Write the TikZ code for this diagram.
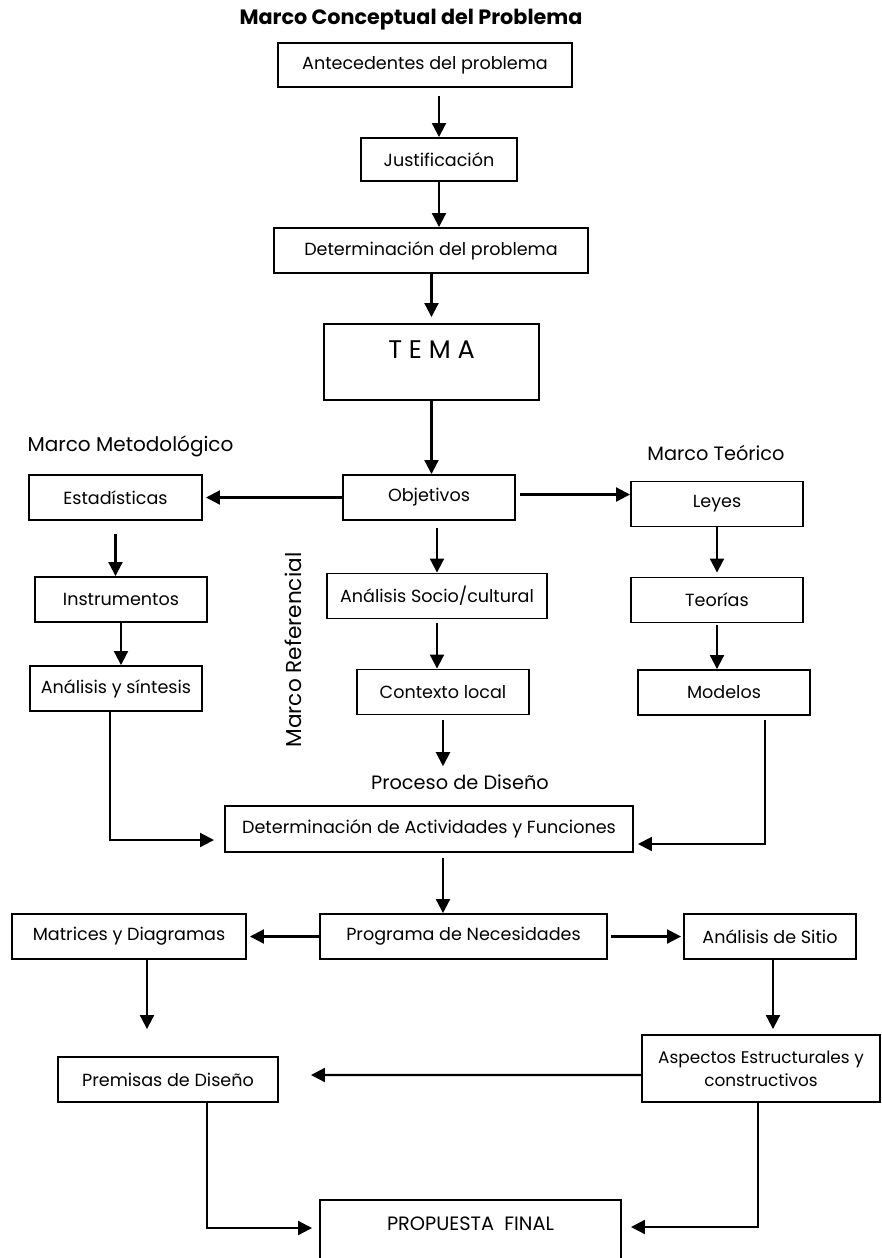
\documentclass[tikz,border=0pt]{standalone}
\usepackage{fontspec}
\setmainfont{Poppins}
\usetikzlibrary{calc,arrows.meta}

\begin{document}
\begin{tikzpicture}
[x=0.2mm,y=-0.2mm,font=\fontsize{10}{12}\selectfont,
ar/.style={-{Triangle[length=2.8mm,width=2.8mm]},line width=1.2pt},
bx/.style={draw,line width=1.1pt,inner sep=0pt,minimum width=34.4mm,minimum height=9mm},
no/.style={inner sep=0pt,font=\fontsize{11}{13}\selectfont}]
\useasboundingbox (0,0) rectangle (881,1258);

% Marco conceptual
\node [no,font=\bfseries\fontsize{11.8}{13}\selectfont] at (411,20) (Tit) {Marco Conceptual del Problema};
\node [bx,minimum width=58.8mm,minimum height=8.8mm] at (425,65) (Ant) {Antecedentes del problema};
\node [bx,minimum width=31.2mm,minimum height=8.6mm] at (439,159.5) (Jus) {Justificación};
\node [bx,minimum width=62.8mm] at (431,250.5) (Det) {Determinación del problema};
\node [bx,minimum width=43mm,minimum height=15.2mm,text depth=5mm,font=\fontsize{14.5}{17}\selectfont] at (431.5,362) (Tema) {T E M A};

% Marco metodologico / referencial / teorico
\node [bx] at (429,497.5) (Obj) {Objetivos};
\node [no,font=\fontsize{11.4}{13}\selectfont] at (130.5,446) (MMet) {Marco Metodológico};
\node [bx,minimum width=34.6mm] at (115.5,497.5) (Est) {Estadísticas};
\node [bx] at (121,599.5) (Ins) {Instrumentos};
\node [bx] at (116,688.5) (Ana) {Análisis y síntesis};
\node [no,rotate=90,font=\fontsize{12.3}{14}\selectfont] at (293,650) (MRef) {Marco Referencial};
\node [bx,minimum width=44mm] at (437,596) (Soc) {Análisis Socio/cultural};
\node [bx] at (443,692) (Con) {Contexto local};
\node [no] at (716,453) (MTeo) {Marco Teórico};
\node [bx] at (717,504) (Ley) {Leyes};
\node [bx] at (717,600) (Teo) {Teorías};
\node [bx] at (724,692.5) (Mod) {Modelos};

% Proceso de diseno
\node [no] at (460,782) (Proc) {Proceso de Diseño};
\node [bx,minimum width=81.6mm,minimum height=9.2mm] at (429,829) (Act) {Determinación de Actividades y Funciones};
\node [bx,minimum width=57.4mm] at (463.5,936.5) (Prog) {Programa de Necesidades};
\node [bx,minimum width=46.8mm] at (129,936.5) (Mat) {Matrices y Diagramas};
\node [bx] at (770,936.5) (Sit) {Análisis de Sitio};
\node [bx,minimum width=44mm] at (168,1079.5) (Pre) {Premisas de Diseño};
\node [bx,minimum width=47.6mm,minimum height=13.4mm,align=center,font=\fontsize{9.6}{13}\selectfont] at (761,1068.5) (Asp) {Aspectos Estructurales y\\constructivos};
\node [bx,minimum width=60.2mm,minimum height=12.4mm,text depth=3mm,font=\fontsize{11}{13}\selectfont] at (470.5,1231) (Fin) {PROPUESTA\ \ FINAL};

\draw [ar,shorten <=1.6mm] (Ant.south -| Jus.north) -- (Jus.north);
\draw [ar] (Jus.south) -- (Jus.south |- Det.north);
\draw [ar,shorten >=1.2mm] (Det.south -| Tema.north) -- (Tema.north);
\draw [ar] (Tema.south) -- (Tema.south |- Obj.north);

\draw [ar,shorten >=0.6mm] (Obj.west) -- (Obj.west -| Est.east);
\draw [ar,shorten <=0.8mm] ([yshift=0.6mm]Obj.east) -- ([yshift=0.6mm]Obj.east -| Ley.west);
\draw [ar,shorten <=2.6mm] (Est.south) -- (Est.south |- Ins.north);
\draw [ar] (Ins.south) -- (Ins.south |- Ana.north);
\draw [ar,shorten <=1.4mm] (Obj.south -| Soc.north) -- (Soc.north);
\draw [ar,shorten <=0.8mm] (Soc.south) -- (Soc.south |- Con.north);
\draw [ar,shorten <=1mm,shorten >=1.6mm] (Con.south) -- (Con.south |- Proc.north);
\draw [ar,shorten >=0.8mm] (Ley.south) -- (Ley.south |- Teo.north);
\draw [ar,shorten <=0.4mm] (Teo.south) -- (Teo.south |- Mod.north);

\draw [ar,shorten >=2mm] ($(Ana.south)+(-6,0)$) |- ($(Act.west)+(0,11)$);
\draw [ar,shorten <=0.8mm,shorten >=0.8mm] ($(Mod.south)+(41,0)$) |- ($(Act.east)+(0,15)$);

\draw [ar,shorten <=1mm] ($(Act.south)+(14,0)$) -- ($(Prog.north)+(-20.5,0)$);
\draw [ar,shorten >=0.6mm] (Prog.west) -- (Prog.west -| Mat.east);
\draw [ar,shorten <=0.6mm,shorten >=0.4mm] (Prog.east) -- (Prog.east -| Sit.west);
\draw [ar] ($(Mat.south)+(18,0)$) -- ($(Pre.north)+(-21,-27)$);
\draw [ar,shorten >=1mm] ($(Sit.south)+(3,0)$) -- ($(Asp.north)+(12,0)$);
\draw [ar] ($(Asp.west)+(0,6.5)$) -- ($(Pre.east)+(32,-4.5)$);
\draw [ar,shorten >=1.4mm] ($(Pre.south)+(39,0)$) |- ($(Fin.west)+(0,-3)$);
\draw [ar,shorten >=1.8mm] ($(Asp.south)+(-3,0)$) |- ($(Fin.east)+(0,-4)$);
\end{tikzpicture}
\end{document}
